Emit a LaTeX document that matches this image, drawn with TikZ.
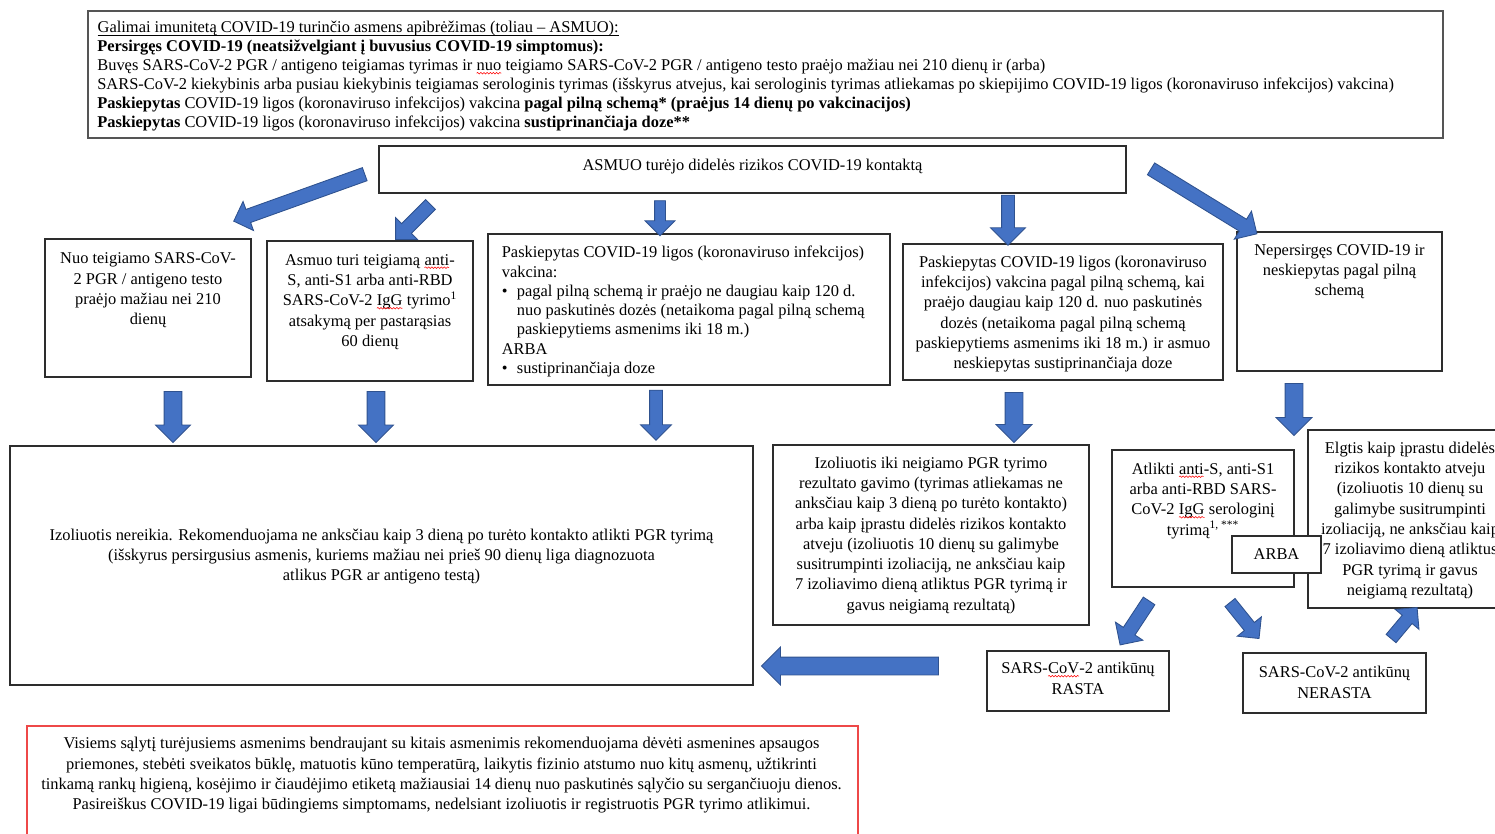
\documentclass[tikz,border=0pt]{standalone}
\usepackage{fontspec}
\setmainfont{Liberation Serif}
\usetikzlibrary{
    calc,
    decorations.pathmorphing,
    fit,
    shapes.arrows
}
\definecolor{arrowblue}{RGB}{68,114,196}
\definecolor{arrowedge}{RGB}{47,82,143}
\definecolor{boxline}{RGB}{45,45,45}
\definecolor{topline}{RGB}{85,85,85}
\definecolor{noteline}{RGB}{238,72,72}
\newcommand{\boxfont}{\fontsize{9.35pt}{11.55pt}\selectfont}
\newcommand{\listfont}{\fontsize{9.35pt}{10.8pt}\selectfont}
\newcommand{\bulletfont}{\fontsize{9.35pt}{10.95pt}\selectfont}
\newcommand{\spellwave}[1]{\tikz[baseline=(sw.base)]{\node[anchor=base, inner sep=0pt, outer sep=0pt] (sw) {#1};
    \draw[red, line width=0.3pt, decorate, decoration={snake, amplitude=0.45pt, segment length=1.8pt}]
        ([yshift=-1.4pt]sw.base west) -- ([yshift=-1.4pt]sw.base east);}}
\newcommand{\headline}[1]{\tikz[baseline=(hl.base)]{\node[anchor=base, inner sep=0pt, outer sep=0pt] (hl) {#1};
    \draw[line width=0.4pt] ([yshift=-1.3pt]hl.base west) -- ([yshift=-1.3pt]hl.base east);}}
\newcommand{\bul}{\makebox[8.6pt][l]{\textbullet}}

\begin{document}
\begin{tikzpicture}[
    x=0.02cm, y=-0.02cm,
    box/.style        = {draw=boxline, line width=0.6pt, fill=white, inner sep=0pt},
    boxtext/.style    = {anchor=north, align=center, inner sep=0pt, font=\boxfont},
    blockarrow/.style = {single arrow, fill=arrowblue, draw=arrowedge,
                         line width=0.5pt, inner xsep=0pt, single arrow tip angle=90},
]
    \useasboundingbox (0,0) rectangle (1495,833);
    \clip (0,0) rectangle (1495,833);

    %Boxes
    \node[box, draw=topline, line width=1pt, fit={(88,11) (1443,138)}] (definition) {};
    \node[box, fit={(379,146) (1126,193)}]   (contact)   {};
    \node[box, fit={(45,239) (251,377)}]     (recovered) {};
    \node[box, fit={(267,241) (473,381)}]    (antibody)  {};
    \node[box, fit={(488,234) (890,385)}]    (vaccinated) {};
    \node[box, fit={(903,244) (1223,380)}]   (overdue)   {};
    \node[box, fit={(1237,232) (1442,371)}]  (unvaccinated) {};
    \node[box, fit={(10,446) (753,685)}]     (noisolation) {};
    \node[box, fit={(773,445) (1089,625)}]   (isolatepcr) {};
    \node[box, fit={(1112,450) (1294,587)}]  (serotest)  {};
    \node[box, fit={(1308,430) (1512,608)}]  (usualcase) {};
    \node[box, fit={(1232,536) (1321,573)}]  (orbox)     {};
    \node[box, fit={(987,651) (1169,711)}]   (found)     {};
    \node[box, fit={(1243,653) (1426,713)}]  (notfound)  {};
    \node[box, draw=noteline, fit={(27,726) (858,850)}] (note) {};

    %Texts
    \node[anchor=north west, align=left, inner sep=0pt, font=\listfont] (definitiontext) at (97,21) {%
        \headline{Galimai imunitetą COVID-19 turinčio asmens apibrėžimas (toliau – ASMUO):}\\
        \textbf{Persirgęs COVID-19 (neatsižvelgiant į buvusius COVID-19 simptomus):}\\
        Buvęs SARS-CoV-2 PGR / antigeno teigiamas tyrimas ir \spellwave{nuo} teigiamo SARS-CoV-2 PGR / antigeno testo praėjo mažiau nei 210 dienų ir (arba)\\
        SARS-CoV-2 kiekybinis arba pusiau kiekybinis teigiamas serologinis tyrimas (išskyrus atvejus, kai serologinis tyrimas atliekamas po skiepijimo COVID-19 ligos (koronaviruso infekcijos) vakcina)\\
        \textbf{Paskiepytas} COVID-19 ligos (koronaviruso infekcijos) vakcina \textbf{pagal pilną schemą* (praėjus 14 dienų po vakcinacijos)}\\
        \textbf{Paskiepytas} COVID-19 ligos (koronaviruso infekcijos) vakcina \textbf{sustiprinančiaja doze**}};
    \node[boxtext] (contacttext) at ($(contact.north)+(0,13)$) {ASMUO turėjo didelės rizikos COVID-19 kontaktą};
    \node[boxtext] (recoveredtext) at ($(recovered.north)+(0,14)$)
        {Nuo teigiamo SARS-CoV-\\2 PGR / antigeno testo\\praėjo mažiau nei 210\\dienų};
    \node[boxtext] (antibodytext) at ($(antibody.north)+(0,13.5)$)
        {Asmuo turi teigiamą \spellwave{anti}-\\S, anti-S1 arba anti-RBD\\SARS-CoV-2 \spellwave{IgG} tyrimo\textsuperscript{1}\\atsakymą per pastarąsias\\60 dienų};
    \node[anchor=north west, align=left, inner sep=0pt, font=\bulletfont] (vaccinatedtext) at (501.5,246) {%
        Paskiepytas COVID-19 ligos (koronaviruso infekcijos)\\
        vakcina:\\
        \bul pagal pilną schemą ir praėjo ne daugiau kaip 120 d.\\
        \hspace*{8.6pt}nuo paskutinės dozės (netaikoma pagal pilną schemą\\
        \hspace*{8.6pt}paskiepytiems asmenims iki 18 m.)\\
        ARBA\\
        \bul sustiprinančiaja doze};
    \node[boxtext] (overduetext) at ($(overdue.north)+(0,12)$)
        {Paskiepytas COVID-19 ligos (koronaviruso\\infekcijos) vakcina pagal pilną schemą, kai\\praėjo daugiau kaip 120 d. nuo paskutinės\\dozės (netaikoma pagal pilną schemą\\paskiepytiems asmenims iki 18 m.) ir asmuo\\neskiepytas sustiprinančiaja doze};
    \node[boxtext] (unvaccinatedtext) at ($(unvaccinated.north)+(0,12.5)$)
        {Nepersirgęs COVID-19 ir\\neskiepytas pagal pilną\\schemą};
    \node[boxtext] (noisolationtext) at ($(noisolation.north)+(0,83)$)
        {Izoliuotis nereikia. Rekomenduojama ne anksčiau kaip 3 dieną po turėto kontakto atlikti PGR tyrimą\\(išskyrus persirgusius asmenis, kuriems mažiau nei prieš 90 dienų liga diagnozuota\\atlikus PGR ar antigeno testą)};
    \node[boxtext] (isolatepcrtext) at ($(isolatepcr.north)+(0,12)$)
        {Izoliuotis iki neigiamo PGR tyrimo\\rezultato gavimo (tyrimas atliekamas ne\\anksčiau kaip 3 dieną po turėto kontakto)\\arba kaip įprastu didelės rizikos kontakto\\atveju (izoliuotis 10 dienų su galimybe\\susitrumpinti izoliaciją, ne anksčiau kaip\\7 izoliavimo dieną atliktus PGR tyrimą ir\\gavus neigiamą rezultatą)};
    \node[boxtext] (serotesttext) at ($(serotest.north)+(0,13)$)
        {Atlikti \spellwave{anti}-S, anti-S1\\arba anti-RBD SARS-\\CoV-2 \spellwave{IgG} serologinį\\tyrimą\textsuperscript{1, ***}};
    \node[boxtext] (usualcasetext) at (1410,441.5)
        {Elgtis kaip įprastu didelės\\rizikos kontakto atveju\\(izoliuotis 10 dienų su\\galimybe susitrumpinti\\izoliaciją, ne anksčiau kaip\\7 izoliavimo dieną atliktus\\PGR tyrimą ir gavus\\neigiamą rezultatą)};
    \node[boxtext] (ortext) at ($(orbox.north)+(0,12.5)$) {ARBA};
    \node[boxtext] (foundtext) at ($(found.north)+(0,11.5)$) {SARS-\spellwave{CoV}-2 antikūnų\\RASTA};
    \node[boxtext] (notfoundtext) at ($(notfound.north)+(0,13.5)$) {SARS-CoV-2 antikūnų\\NERASTA};
    \node[boxtext] (notetext) at ($(note.north)+(-1,11.5)$)
        {Visiems sąlytį turėjusiems asmenims bendraujant su kitais asmenimis rekomenduojama dėvėti asmenines apsaugos\\priemones, stebėti sveikatos būklę, matuotis kūno temperatūrą, laikytis fizinio atstumo nuo kitų asmenų, užtikrinti\\tinkamą rankų higieną, kosėjimo ir čiaudėjimo etiketą mažiausiai 14 dienų nuo paskutinės sąlyčio su sergančiuoju dienos.\\Pasireiškus COVID-19 ligai būdingiems simptomams, nedelsiant izoliuotis ir registruotis PGR tyrimo atlikimui.};

    %Arrow ends
    \foreach \name/\px/\py in {c1/368/173, r1/237/220, c2/433/202, a2/398/237,
                               c3/660/198, v3/660/233, c4/1008/192, o4/1008/242,
                               c5/1148/167, u5/1254/232,
                               r6/173/387, n6/173/438, a7/376/387, n7/376/438,
                               v8/656/387, n8/656/437, o9/1014/388, i9/1014/438,
                               u10/1294/379, s10/1294/431,
                               s11/1151/598, f11/1122/642, s12/1228/600, n12/1257/636,
                               n13/1389/641, e13/1415/610, f14/943/666, n14/766/666}
        \coordinate (\name) at (\px,\py);

    %Arrows
    \foreach \src/\dst/\w/\h in {c1/r1/13/30, c2/a2/13/30, c3/v3/10/29, c4/o4/12/34,
                                c5/u5/13/32, r6/n6/17/34, a7/n7/17/34, v8/n8/12/30,
                                o9/i9/17/35, u10/s10/17/35, s11/f11/13/32,
                                s12/n12/12/30, n13/e13/12/30, f14/n14/17/37}{
        \pgfmathsetmacro\shafthalf{\w*0.01}
        \pgfmathsetmacro\headext{(\h-\w)*0.01}
        \path let \p1 = ($(\dst)-(\src)$), \n1 = {veclen(\x1,\y1)} in
            (\src) -- (\dst) node[blockarrow, midway, sloped, allow upside down,
                                  inner ysep=\shafthalf cm, single arrow head extend=\headext cm,
                                  minimum height=\n1] (arrow-\src) {};
    }
\end{tikzpicture}
\end{document}
